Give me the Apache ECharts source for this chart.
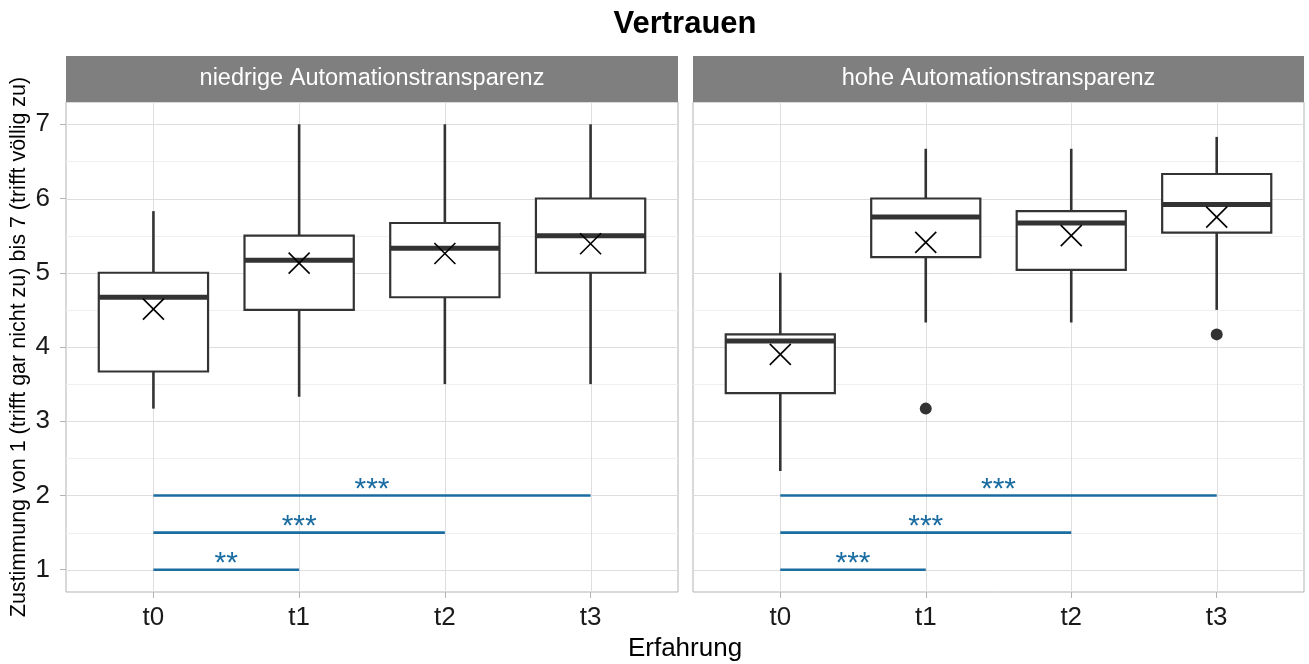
<!DOCTYPE html>
<html><head><meta charset="utf-8">
<script src="https://cdn.jsdelivr.net/npm/echarts@6/dist/echarts.min.js"></script>
<style>html,body{margin:0;padding:0;background:#fff}#c{width:1309px;height:664px}</style>
</head><body><div id="c"></div>
<script>
// ---------- data ----------
const categories = ['t0', 't1', 't2', 't3'];
const panels = ['niedrige Automationstransparenz', 'hohe Automationstransparenz'];
const yTicks = [1, 2, 3, 4, 5, 6, 7];
const yMinor = [1.5, 2.5, 3.5, 4.5, 5.5, 6.5];
// [lower whisker, Q1, median, Q3, upper whisker]
const boxLow = [
  [3.17, 3.67, 4.67, 5.00, 5.83],
  [3.33, 4.50, 5.17, 5.50, 7.00],
  [3.50, 4.67, 5.33, 5.67, 7.00],
  [3.50, 5.00, 5.50, 6.00, 7.00]
];
const boxHigh = [
  [2.33, 3.38, 4.08, 4.17, 5.00],
  [4.33, 5.21, 5.75, 6.00, 6.67],
  [4.33, 5.04, 5.67, 5.83, 6.67],
  [4.50, 5.54, 5.92, 6.33, 6.83]
];
const meanLow = [4.51, 5.13, 5.26, 5.39];
const meanHigh = [3.90, 5.41, 5.50, 5.75];
const outlierLow = [];
const outlierHigh = [[1, 3.17], [3, 4.17]];
// [from category, to category, y, label]
const sigLow = [[0, 3, 2.0, '***'], [0, 2, 1.5, '***'], [0, 1, 1.0, '**']];
const sigHigh = [[0, 3, 2.0, '***'], [0, 2, 1.5, '***'], [0, 1, 1.0, '***']];

// ---------- styles ----------
const FONT = '"Liberation Sans", Arial, sans-serif';
const BOX = '#333333';
const SIG = '#1a6ca1';
const MAJOR = '#dedede';
const MINOR = '#efefef';
const BORDER = '#b3b3b3';

const chart = echarts.init(document.getElementById('c'));

const gridPos = [
  {left: 66, top: 102, width: 612, height: 490},
  {left: 693, top: 102, width: 611, height: 490}
];

function hLines(idx, vals, color, w) {
  return {
    type: 'custom', xAxisIndex: idx, yAxisIndex: idx, z: 1, silent: true,
    encode: {x: 0, y: 1},
    data: vals.map(v => [0, v]),
    renderItem(params, api) {
      const cs = params.coordSys;
      const y = Math.round(api.coord([0, api.value(1)])[1]) + 0.5;
      return {type: 'line', shape: {x1: cs.x, y1: y, x2: cs.x + cs.width, y2: y},
        style: {stroke: color, lineWidth: w}};
    }
  };
}
function vLines(idx, color, w) {
  return {
    type: 'custom', xAxisIndex: idx, yAxisIndex: idx, z: 1, silent: true,
    encode: {x: 0, y: 1},
    data: categories.map((c, i) => [i, 1]),
    renderItem(params, api) {
      const cs = params.coordSys;
      const x = Math.round(api.coord([api.value(0), 1])[0]) + 0.5;
      return {type: 'line', shape: {x1: x, y1: cs.y, x2: x, y2: cs.y + cs.height},
        style: {stroke: color, lineWidth: w}};
    }
  };
}
function boxSeries(idx, boxes) {
  return {
    type: 'custom', xAxisIndex: idx, yAxisIndex: idx, z: 2, silent: true,
    encode: {x: 0, y: [1, 2, 3, 4, 5]},
    data: boxes.map((b, i) => [i].concat(b)),
    renderItem(params, api) {
      const x = api.value(0);
      const lo = api.coord([x, api.value(1)]);
      const q1 = api.coord([x, api.value(2)]);
      const md = api.coord([x, api.value(3)]);
      const q3 = api.coord([x, api.value(4)]);
      const hi = api.coord([x, api.value(5)]);
      const w = api.size([0.75, 0])[0];
      return {type: 'group', children: [
        {type: 'line', shape: {x1: lo[0], y1: lo[1], x2: q1[0], y2: q1[1]}, style: {stroke: BOX, lineWidth: 2.6}},
        {type: 'line', shape: {x1: q3[0], y1: q3[1], x2: hi[0], y2: hi[1]}, style: {stroke: BOX, lineWidth: 2.6}},
        {type: 'rect', shape: {x: q1[0] - w / 2, y: q3[1], width: w, height: q1[1] - q3[1]},
          style: {fill: '#ffffff', stroke: BOX, lineWidth: 2.2}},
        {type: 'line', shape: {x1: md[0] - w / 2, y1: md[1], x2: md[0] + w / 2, y2: md[1]}, style: {stroke: BOX, lineWidth: 5}}
      ]};
    }
  };
}
function meanSeries(idx, means) {
  return {
    type: 'custom', xAxisIndex: idx, yAxisIndex: idx, z: 3, silent: true,
    encode: {x: 0, y: 1},
    data: means.map((m, i) => [i, m]),
    renderItem(params, api) {
      const p = api.coord([api.value(0), api.value(1)]);
      const h = 10.5;
      const st = {stroke: '#000000', lineWidth: 1.6};
      return {type: 'group', children: [
        {type: 'line', shape: {x1: p[0] - h, y1: p[1] - h, x2: p[0] + h, y2: p[1] + h}, style: st},
        {type: 'line', shape: {x1: p[0] - h, y1: p[1] + h, x2: p[0] + h, y2: p[1] - h}, style: st}
      ]};
    }
  };
}
function outlierSeries(idx, pts) {
  return {
    type: 'scatter', xAxisIndex: idx, yAxisIndex: idx, z: 3, silent: true,
    symbol: 'circle', symbolSize: 12,
    itemStyle: {color: BOX, opacity: 1},
    data: pts
  };
}
function sigSeries(idx, sigs) {
  return {
    type: 'custom', xAxisIndex: idx, yAxisIndex: idx, z: 4, silent: true,
    encode: {x: [0, 1], y: 2},
    data: sigs.map(s => [s[0], s[1], s[2]]),
    renderItem(params, api) {
      const a = api.coord([api.value(0), api.value(2)]);
      const b = api.coord([api.value(1), api.value(2)]);
      const label = sigs[params.dataIndex][3];
      return {type: 'group', children: [
        {type: 'line', shape: {x1: a[0], y1: a[1], x2: b[0], y2: b[1]}, style: {stroke: SIG, lineWidth: 2.6}},
        {type: 'text', x: (a[0] + b[0]) / 2, y: a[1] - 6,
          style: {text: label, fill: SIG, fontSize: 30, fontFamily: FONT, align: 'center', verticalAlign: 'middle'}}
      ]};
    }
  };
}

const xAxes = [0, 1].map(i => ({
  type: 'value', gridIndex: i, min: -0.6, max: 3.6,
  splitLine: {show: false}, axisLine: {show: false, onZero: false},
  axisTick: {show: true, customValues: [0, 1, 2, 3], length: 6, lineStyle: {color: BORDER, width: 1}},
  axisLabel: {customValues: [0, 1, 2, 3], formatter: v => categories[Math.round(v)],
    fontSize: 26, color: '#1a1a1a', margin: 13, fontFamily: FONT}
}));
const yAxes = [0, 1].map(i => ({
  type: 'value', gridIndex: i, min: 0.7, max: 7.3,
  splitLine: {show: false}, axisLine: {show: false, onZero: false},
  axisTick: {show: i === 0, customValues: yTicks, length: 6, lineStyle: {color: BORDER, width: 1}},
  axisLabel: {show: i === 0, customValues: yTicks, fontSize: 26, color: '#1a1a1a', margin: 16, fontFamily: FONT}
}));

const series = [];
[[boxLow, meanLow, outlierLow, sigLow], [boxHigh, meanHigh, outlierHigh, sigHigh]].forEach((d, i) => {
  series.push(hLines(i, yMinor, MINOR, 1));
  series.push(hLines(i, yTicks, MAJOR, 1));
  series.push(vLines(i, MAJOR, 1));
  series.push(boxSeries(i, d[0]));
  series.push(meanSeries(i, d[1]));
  series.push(outlierSeries(i, d[2]));
  series.push(sigSeries(i, d[3]));
});

const graphics = [
  {type: 'text', x: 685, y: 24, style: {text: 'Vertrauen', fontSize: 31, fontWeight: 'bold', fontFamily: FONT, fill: '#000', align: 'center', verticalAlign: 'middle'}},
  {type: 'text', x: 685, y: 649, style: {text: 'Erfahrung', fontSize: 26, fontFamily: FONT, fill: '#000', align: 'center', verticalAlign: 'middle'}},
  {type: 'text', x: 19, y: 347, rotation: Math.PI / 2, style: {text: 'Zustimmung von 1 (trifft gar nicht zu) bis 7 (trifft völlig zu)', fontSize: 21.5, fontFamily: FONT, fill: '#000', align: 'center', verticalAlign: 'middle'}}
];
gridPos.forEach((g, i) => {
  graphics.push({type: 'rect', shape: {x: g.left, y: 56, width: g.width, height: g.top - 56}, style: {fill: '#7f7f7f'}});
  graphics.push({type: 'text', x: g.left + g.width / 2, y: 56 + (g.top - 56) / 2, style: {text: panels[i], fontSize: 23.5, fontFamily: FONT, fill: '#ffffff', align: 'center', verticalAlign: 'middle'}});
});

chart.setOption({
  animation: false,
  backgroundColor: '#ffffff',
  grid: gridPos.map(g => Object.assign({show: true, borderColor: BORDER, borderWidth: 1, backgroundColor: 'transparent'}, g)),
  xAxis: xAxes,
  yAxis: yAxes,
  series: series,
  graphic: graphics
});
</script>
</body></html>
